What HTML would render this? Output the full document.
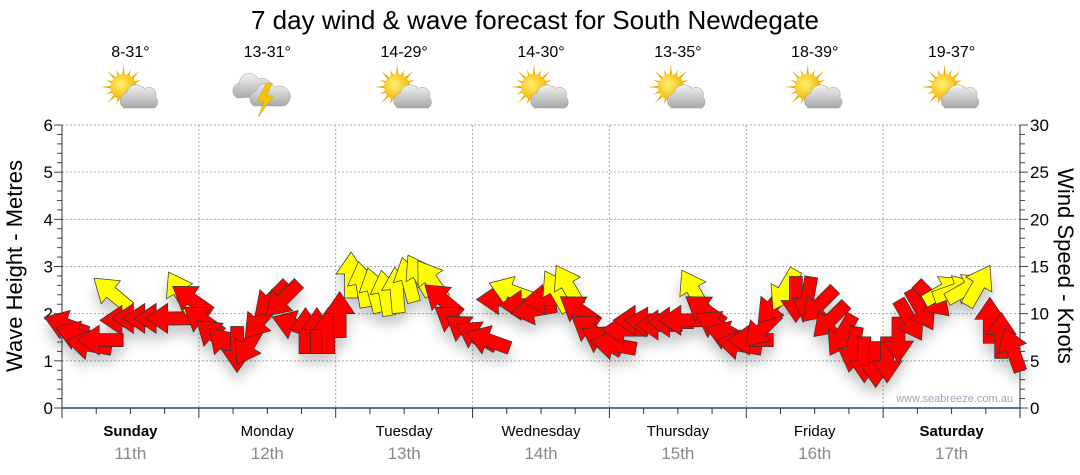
<!DOCTYPE html>
<html><head><meta charset="utf-8"><style>
html,body{margin:0;padding:0;background:#fff;}
svg{display:block;font-family:"Liberation Sans",sans-serif;}
</style></head><body>
<svg id="chart" width="1080" height="475" viewBox="0 0 1080 475" xmlns="http://www.w3.org/2000/svg">
<defs>
<filter id="sh" x="-50%" y="-50%" width="200%" height="200%"><feDropShadow dx="0" dy="9" stdDeviation="6" flood-color="#000" flood-opacity="0.22"/></filter>
<radialGradient id="sun" cx="0.4" cy="0.4" r="0.6"><stop offset="0" stop-color="#fff176"/><stop offset="1" stop-color="#f5b800"/></radialGradient>
<linearGradient id="cloud" x1="0" y1="0" x2="0" y2="1"><stop offset="0" stop-color="#f2f2f2"/><stop offset="1" stop-color="#a8a8a8"/></linearGradient>
</defs>
<text x="535" y="29" text-anchor="middle" font-size="26" fill="#000">7 day wind &amp; wave forecast for South Newdegate</text>
<g id="grid"></g>
<g id="axes"></g>
<g id="icons"></g>
<g id="arrows" filter="url(#sh)"></g>
<text x="1013" y="402" text-anchor="end" font-size="11" fill="#9aa6b8">www.seabreeze.com.au</text>
<text transform="translate(22,266) rotate(-90)" text-anchor="middle" font-size="22" fill="#000">Wave Height - Metres</text>
<text transform="translate(1058,266) rotate(90)" text-anchor="middle" font-size="22" fill="#000">Wind Speed - Knots</text>
</svg>
<script>
const days = ["Sunday","Monday","Tuesday","Wednesday","Thursday","Friday","Saturday"];
const dates = ["11th","12th","13th","14th","15th","16th","17th"];
const temps = ["8-31°","13-31°","14-29°","14-30°","13-35°","18-39°","19-37°"];
const icons = ["sun","storm","sun","sun","sun","sun","sun"];
const waveTicks = [0,1,2,3,4,5,6];
const windTicks = [0,5,10,15,20,25,30];
const windSpeed = [
 8.8,7.7,6.7,7.2,12.2,9.3,9.5,9.5,9.5,9.5,12.3,11.5,
 9.3,7.7,6.7,6.2,6.7,9.3,11.5,11.5,8.8,8.2,8.2,8.2,
 9.9,14.1,13.1,12.5,12.2,12.5,13.6,14.1,13.6,11.5,9.3,8.3,
 7.7,7.2,11.5,12.4,10.9,10.4,11.5,12.4,13.0,10.4,8.3,7.2,
 6.7,8.3,9.3,9.1,8.8,9.1,9.3,12.5,10.4,8.8,7.7,6.7,
 7.2,8.3,10.9,12.5,11.5,11.5,10.9,9.3,7.7,6.2,5.1,4.6,
 5.1,7.2,9.3,10.4,11.5,12.5,12.5,12.7,13.0,9.3,7.7,6.2];
const windDir = [
 200,200,190,180,220,180,180,180,180,180,240,215,
 215,220,225,90,120,130,135,135,200,270,270,270,
 270,270,260,255,260,265,255,240,235,220,215,215,
 210,200,180,200,180,170,175,240,240,215,215,210,
 190,180,180,185,180,180,180,240,215,210,200,190,
 180,135,130,120,90,100,135,135,120,100,90,90,
 90,90,60,60,45,330,340,330,300,270,270,250];

const NS="http://www.w3.org/2000/svg";
const X0=62,X1=1020,Y0=408,Y1=125;
const dayW=(X1-X0)/7;
function xT(h){return X0+h/168*(X1-X0);}
function yW(m){return Y0-m/6*(Y0-Y1);}
function yK(k){return Y0-k/30*(Y0-Y1);}
function mk(tag,attrs,parent){const e=document.createElementNS(NS,tag);for(const k in attrs)e.setAttribute(k,attrs[k]);parent.appendChild(e);return e;}
const grid=document.getElementById('grid'),axes=document.getElementById('axes'),icg=document.getElementById('icons'),ag=document.getElementById('arrows');

waveTicks.forEach(v=>{
 if(v>0){const l=mk('line',{x1:X0,x2:X1,y1:yW(v),y2:yW(v),stroke:'#aaa','stroke-dasharray':'2,2'},grid);
 
 }
 const t=mk('text',{x:X0-9,y:yW(v)+6,'text-anchor':'end','font-size':17,fill:'#000'},axes);t.textContent=v;
 
 
});
for(let m=0;m<=30;m++){const y=Y0-m/30*(Y0-Y1);mk('line',{x1:X0,x2:X0-(m%5?5:8),y1:y,y2:y,stroke:'#444'},axes);mk('line',{x1:X1,x2:X1+(m%5?5:8),y1:y,y2:y,stroke:'#444'},axes);}
windTicks.forEach(v=>{const t=mk('text',{x:X1+10,y:yK(v)+6,'font-size':17,fill:'#000'},axes);t.textContent=v;
 
 });
mk('line',{x1:X0,x2:X0,y1:Y1,y2:Y0+8,stroke:'#333'},axes);
mk('line',{x1:X1,x2:X1,y1:Y1,y2:Y0,stroke:'#333'},axes);
mk('line',{x1:X0,x2:X1,y1:Y0,y2:Y0,stroke:'#1f4e79','stroke-width':1.5},axes);
for(let q=0;q<=28;q++){const x=X0+q*dayW/4;mk('line',{x1:x,x2:x,y1:Y0,y2:Y0+(q%4?6:10),stroke:'#333'},axes);}
days.forEach((d,i)=>{
 const cx=X0+dayW*(i+0.5);
 if(i>0){const l=mk('line',{x1:X0+dayW*i,x2:X0+dayW*i,y1:Y1,y2:Y0,stroke:'#aaa','stroke-dasharray':'2,2'},grid);
 
 }
 const t=mk('text',{x:cx,y:436,'text-anchor':'middle','font-size':15,fill:'#000','font-weight':(i==0||i==6)?'bold':'normal'},axes);t.textContent=d;
 
 
 const t2=mk('text',{x:cx,y:459,'text-anchor':'middle','font-size':17,fill:'#888'},axes);t2.textContent=dates[i];
 
 
 const t3=mk('text',{x:cx,y:57,'text-anchor':'middle','font-size':16,fill:'#000'},icg);t3.textContent=temps[i];
 
 
 const g=mk('g',{},icg);
 
 
 if(icons[i]=='sun'){
  const sx=cx-7,sy=87;
  for(let r=0;r<16;r++){const a=r*Math.PI/8,L=r%2?19:23;mk('polygon',{points:`${sx+Math.cos(a-0.12)*11},${sy+Math.sin(a-0.12)*11} ${sx+Math.cos(a)*L},${sy+Math.sin(a)*L} ${sx+Math.cos(a+0.12)*11},${sy+Math.sin(a+0.12)*11}`,fill:'#f0a800'},g);}
  mk('circle',{cx:sx,cy:sy,r:13,fill:'url(#sun)'},g);
  mk('path',{d:`M${cx-6},${108} a8,8 0 0 1 2,-15 a10,10 0 0 1 18,-4 a7,7 0 0 1 11,8 a7,7 0 0 1 -1,11 z`,fill:'url(#cloud)',stroke:'#999','stroke-width':0.5},g);
 } else {
  mk('path',{d:`M${cx-30},${98} a8,8 0 0 1 2,-15 a10,10 0 0 1 19,-4 a8,8 0 0 1 8,17 z`,fill:'url(#cloud)',stroke:'#999','stroke-width':0.5},g);
  mk('path',{d:`M${cx-13},${106} a8,8 0 0 1 2,-15 a11,11 0 0 1 19,-4 a8,8 0 0 1 9,19 z`,fill:'url(#cloud)',stroke:'#999','stroke-width':0.5},g);
  mk('polygon',{points:`${cx-1},83 ${cx-10},101 ${cx-3},101 ${cx-9},117 ${cx+6},96 ${cx-1},96 ${cx+5},83`,fill:'#f5c400',stroke:'#c90','stroke-width':0.5},g);
 }
});
// arrows
const L=46,HW=30,SW=13,HL=22;
windSpeed.forEach((k,i)=>{
 const h=i*2, x=xT(h)+4, y=yK(k);
 const col=k>=12?'#ffff00':'#ff0000';
 const p=mk('polygon',{points:`${L/2},0 ${L/2-HL},${-HW/2} ${L/2-HL},${-SW/2} ${-L/2},${-SW/2} ${-L/2},${SW/2} ${L/2-HL},${SW/2} ${L/2-HL},${HW/2}`,
  transform:`translate(${x.toFixed(1)},${y.toFixed(1)}) rotate(${windDir[i]})`,fill:col,stroke:'#333','stroke-width':0.7,'stroke-linejoin':'miter'},ag);
 
 
});
</script>
</body></html>
